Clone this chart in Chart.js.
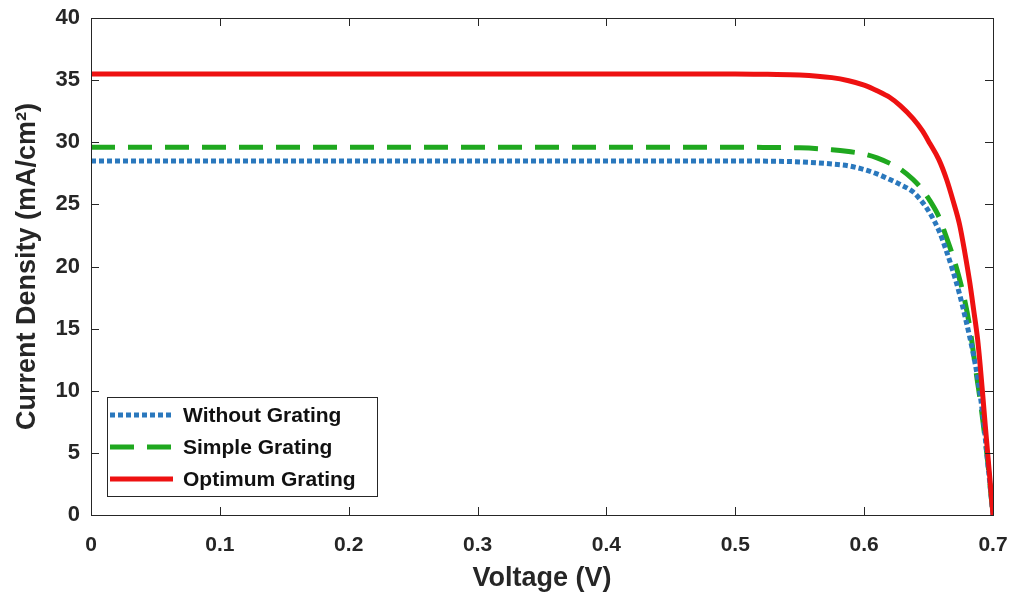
<!DOCTYPE html>
<html>
<head>
<meta charset="utf-8">
<title>J-V curves</title>
<script src="https://cdn.jsdelivr.net/npm/chart.js@4"></script>
<style>
  body { margin: 0; background: #ffffff; }
  canvas { display: block; }
</style>
</head>
<body>
<canvas id="jvChart" width="1015" height="596"></canvas>
<script>
// ============================================
// DATA
// ============================================
const voltage        = [0, 0.1, 0.2, 0.3, 0.4, 0.45, 0.5, 0.525, 0.55, 0.575, 0.588, 0.6, 0.61, 0.62, 0.628, 0.638, 0.645, 0.651, 0.658, 0.664, 0.669, 0.674, 0.678, 0.682, 0.685, 0.688, 0.69, 0.692, 0.694, 0.696, 0.698, 0.7];
const withoutGrating = [28.5, 28.5, 28.5, 28.5, 28.5, 28.5, 28.5, 28.48, 28.42, 28.25, 28.1, 27.8, 27.45, 27.0, 26.6, 26.0, 25.2, 24.3, 22.9, 21.2, 19.6, 17.8, 16.1, 14.3, 12.8, 11.1, 9.7, 8.1, 6.2, 4.1, 2.1, 0];
const simpleGrating  = [29.6, 29.6, 29.6, 29.6, 29.6, 29.6, 29.6, 29.58, 29.55, 29.4, 29.25, 29.05, 28.75, 28.3, 27.85, 27.0, 26.2, 25.3, 24.0, 22.3, 20.8, 19.0, 17.3, 15.1, 12.9, 10.7, 9.3, 7.7, 6.0, 4.2, 2.1, 0];
const optimumGrating = [35.5, 35.5, 35.5, 35.5, 35.5, 35.5, 35.5, 35.47, 35.42, 35.2, 34.95, 34.6, 34.15, 33.6, 32.95, 31.9, 30.95, 29.9, 28.6, 27.0, 25.3, 23.4, 21.2, 18.7, 16.5, 14.2, 12.1, 9.7, 7.2, 4.8, 2.4, 0];

const seriesNames = ["Without Grating", "Simple Grating", "Optimum Grating"];
const xTickValues = [0, 0.1, 0.2, 0.3, 0.4, 0.5, 0.6, 0.7];
const yTickValues = [0, 5, 10, 15, 20, 25, 30, 35, 40];

const AXIS_COLOR = "#262626";
const FONT_FAMILY = "'Liberation Sans', Arial, Helvetica, sans-serif";

function toPoints(values) {
    return voltage.map((v, i) => ({ x: v, y: values[i] }));
}

// ============================================
// PLUGINS: MATLAB style box with inward ticks + legend
// ============================================
const boxPlugin = {
    id: "boxPlugin",
    afterDatasetsDraw(chart) {
        const { ctx, chartArea, scales } = chart;
        const { left, right, top, bottom } = chartArea;
        const tickLen = 8;

        ctx.save();
        ctx.strokeStyle = AXIS_COLOR;
        ctx.lineWidth = 1;
        ctx.strokeRect(Math.round(left) + 0.5, Math.round(top) + 0.5,
            Math.round(right - left), Math.round(bottom - top));

        ctx.beginPath();
        xTickValues.forEach(v => {
            const px = Math.round(scales.x.getPixelForValue(v)) + 0.5;
            ctx.moveTo(px, bottom);
            ctx.lineTo(px, bottom - tickLen);
            ctx.moveTo(px, top);
            ctx.lineTo(px, top + tickLen);
        });
        yTickValues.forEach(v => {
            const py = Math.round(scales.y.getPixelForValue(v)) + 0.5;
            ctx.moveTo(left, py);
            ctx.lineTo(left + tickLen, py);
            ctx.moveTo(right, py);
            ctx.lineTo(right - tickLen, py);
        });
        ctx.stroke();
        ctx.restore();
    }
};

const legendPlugin = {
    id: "insideLegend",
    afterDraw(chart) {
        const { ctx, chartArea } = chart;
        const boxX = chartArea.left + 16;
        const boxY = 397;
        const boxW = 270;
        const boxH = 99;
        const rowY = [415, 447, 479];

        ctx.save();
        ctx.fillStyle = "#ffffff";
        ctx.fillRect(boxX, boxY, boxW, boxH);
        ctx.strokeStyle = AXIS_COLOR;
        ctx.lineWidth = 1;
        ctx.strokeRect(boxX + 0.5, boxY + 0.5, boxW, boxH);

        chart.data.datasets.forEach((ds, i) => {
            ctx.beginPath();
            ctx.strokeStyle = ds.borderColor;
            ctx.lineWidth = ds.borderWidth;
            ctx.setLineDash(ds.borderDash || []);
            ctx.moveTo(boxX + 3, rowY[i]);
            ctx.lineTo(boxX + 66, rowY[i]);
            ctx.stroke();
            ctx.setLineDash([]);

            ctx.fillStyle = "#111111";
            ctx.font = "bold 21px " + FONT_FAMILY;
            ctx.textBaseline = "middle";
            ctx.textAlign = "left";
            ctx.fillText(ds.label, boxX + 76, rowY[i] + 1);
        });
        ctx.restore();
    }
};

// ============================================
// CHART
// ============================================
const ctx = document.getElementById("jvChart").getContext("2d");
new Chart(ctx, {
    type: "line",
    data: {
        datasets: [
            {
                label: seriesNames[0],
                data: toPoints(withoutGrating),
                borderColor: "#2a78bd",
                borderWidth: 5,
                borderDash: [5, 3],
                order: 1
            },
            {
                label: seriesNames[1],
                data: toPoints(simpleGrating),
                borderColor: "#1fa81f",
                borderWidth: 5,
                borderDash: [24, 13],
                order: 2
            },
            {
                label: seriesNames[2],
                data: toPoints(optimumGrating),
                borderColor: "#ee1111",
                borderWidth: 5,
                order: 0
            }
        ]
    },
    options: {
        responsive: false,
        animation: false,
        layout: { padding: { top: 18, right: 22, left: 0, bottom: 0 } },
        elements: {
            point: { radius: 0 },
            line: { cubicInterpolationMode: "monotone", fill: false }
        },
        plugins: {
            legend: { display: false },
            tooltip: { enabled: false }
        },
        scales: {
            x: {
                type: "linear",
                min: 0,
                max: 0.7,
                afterBuildTicks: scale => {
                    scale.ticks = xTickValues.map(v => ({ value: v }));
                },
                afterFit: scale => {
                    scale.height = 81;
                    scale.paddingLeft = 0;
                    scale.paddingRight = 0;
                },
                grid: { display: false, drawTicks: false },
                border: { display: false },
                ticks: {
                    autoSkip: false,
                    maxRotation: 0,
                    padding: 18,
                    color: AXIS_COLOR,
                    font: { family: FONT_FAMILY, size: 21, weight: "bold" },
                    callback: v => (v === 0 ? "0" : v.toFixed(1))
                },
                title: {
                    display: true,
                    text: "Voltage (V)",
                    color: AXIS_COLOR,
                    font: { family: FONT_FAMILY, size: 27, weight: "bold" },
                    padding: { top: 0, bottom: 1 }
                }
            },
            y: {
                min: 0,
                max: 40,
                afterBuildTicks: scale => {
                    scale.ticks = yTickValues.map(v => ({ value: v }));
                },
                afterFit: scale => {
                    scale.width = 91;
                    scale.paddingTop = 0;
                    scale.paddingBottom = 0;
                },
                grid: { display: false, drawTicks: false },
                border: { display: false },
                ticks: {
                    padding: 11,
                    color: AXIS_COLOR,
                    font: { family: FONT_FAMILY, size: 22, weight: "bold" }
                },
                title: {
                    display: true,
                    text: "Current Density (mA/cm²)",
                    color: AXIS_COLOR,
                    font: { family: FONT_FAMILY, size: 27, weight: "bold" },
                    padding: { top: 11, bottom: 0 }
                }
            }
        }
    },
    plugins: [boxPlugin, legendPlugin]
});
</script>
</body>
</html>
